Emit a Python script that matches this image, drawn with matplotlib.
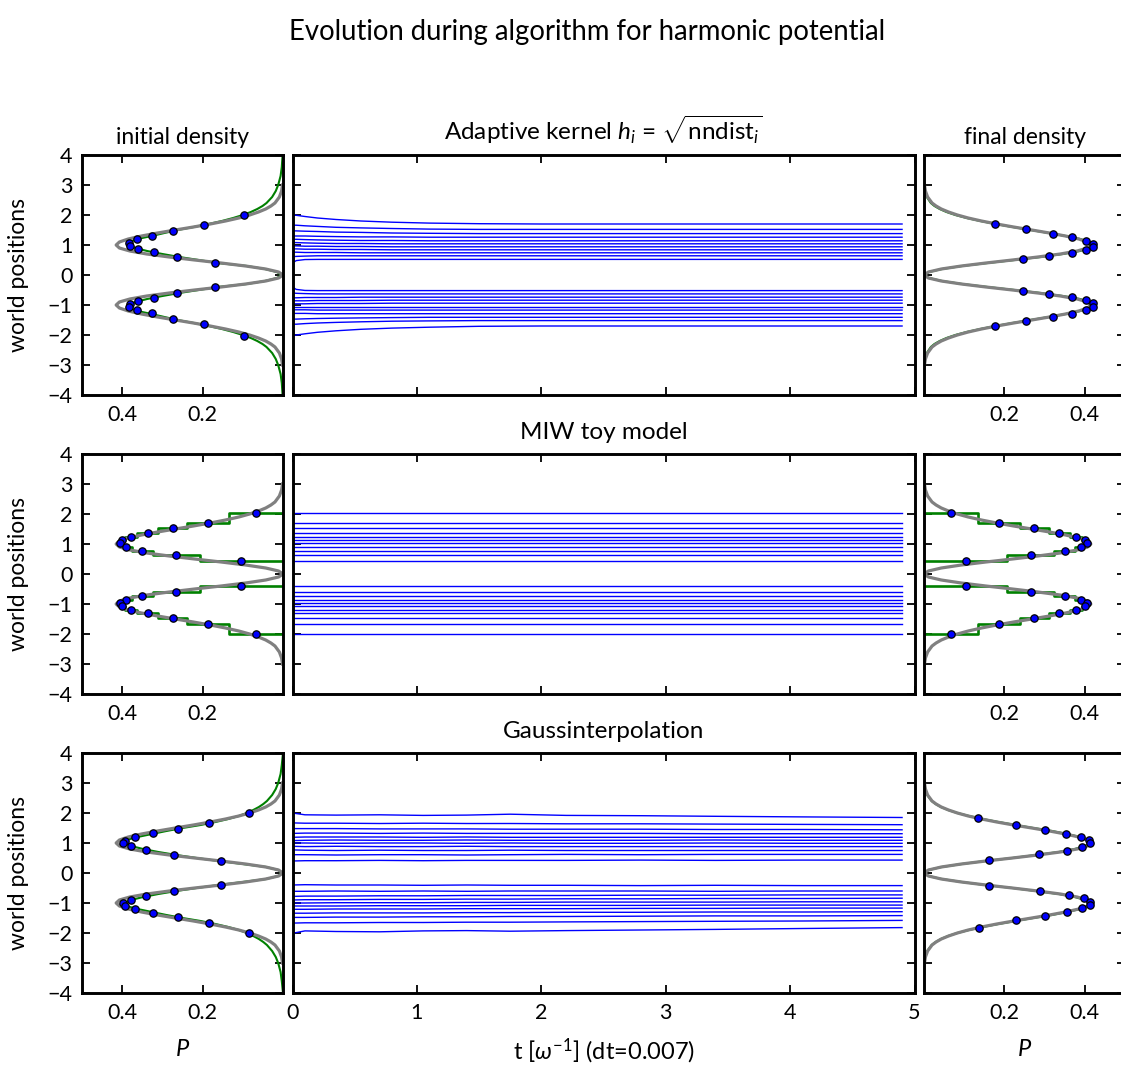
import numpy as np
import matplotlib
matplotlib.use("Agg")
import matplotlib.pyplot as plt

# ---------------------------------------------------------------- data
# reference density (grey curve) for y >= 0 (symmetric)
ref_y = [0.0, 0.1, 0.2, 0.3, 0.4, 0.5, 0.6, 0.7, 0.8, 0.9, 1.0, 1.1, 1.2, 1.3,
         1.4, 1.5, 1.6, 1.7, 1.8, 1.9, 2.0, 2.1, 2.2, 2.3, 2.4, 2.6, 2.8, 3.0]
ref_P = [0.0, 0.011, 0.043, 0.093, 0.154, 0.220, 0.283, 0.339, 0.381, 0.407,
         0.415, 0.407, 0.385, 0.352, 0.312, 0.268, 0.223, 0.181, 0.143, 0.110,
         0.083, 0.061, 0.043, 0.030, 0.020, 0.009, 0.0035, 0.0012]

# estimated densities (green curves), y >= 0
kde_y = [0.0, 0.1, 0.2, 0.3, 0.4, 0.5, 0.6, 0.7, 0.8, 0.9, 1.0, 1.1, 1.2, 1.3,
         1.4, 1.5, 1.6, 1.7, 1.8, 1.9, 2.0, 2.1, 2.2, 2.3, 2.4, 2.6, 2.8, 3.0,
         3.3, 3.6, 4.0]
kde_adapt_init = [0.003, 0.015, 0.045, 0.090, 0.162, 0.210, 0.258, 0.300, 0.338,
                  0.367, 0.382, 0.382, 0.362, 0.327, 0.295, 0.262, 0.222, 0.185,
                  0.152, 0.124, 0.100, 0.080, 0.064, 0.051, 0.041, 0.027, 0.018,
                  0.012, 0.006, 0.003, 0.001]
kde_adapt_final = [0.0, 0.012, 0.045, 0.095, 0.158, 0.225, 0.290, 0.345, 0.388,
                   0.412, 0.421, 0.413, 0.388, 0.352, 0.310, 0.265, 0.220, 0.178,
                   0.140, 0.106, 0.078, 0.056, 0.039, 0.026, 0.017, 0.007, 0.002,
                   0.0005, 0.0, 0.0, 0.0]
kde_gauss_init = [0.002, 0.012, 0.042, 0.100, 0.160, 0.215, 0.265, 0.310, 0.348,
                  0.378, 0.396, 0.390, 0.362, 0.326, 0.290, 0.250, 0.205, 0.168,
                  0.136, 0.110, 0.090, 0.074, 0.060, 0.049, 0.040, 0.027, 0.018,
                  0.012, 0.006, 0.003, 0.0]
kde_gauss_final = [0.0, 0.011, 0.044, 0.094, 0.152, 0.220, 0.278, 0.335, 0.375,
                   0.401, 0.412, 0.408, 0.388, 0.356, 0.318, 0.272, 0.228, 0.185,
                   0.146, 0.112, 0.083, 0.060, 0.042, 0.029, 0.019, 0.008, 0.003,
                   0.001, 0.0, 0.0, 0.0]

# particles (positions and density at the particle)
adapt_init_pos = [2.01, 1.66, 1.47, 1.30, 1.19, 1.08, 0.97, 0.87, 0.76, 0.61, 0.40,
                  -0.40, -0.60, -0.76, -0.86, -0.96, -1.06, -1.16, -1.28, -1.47, -1.64, -2.02]
adapt_init_P = [0.098, 0.197, 0.273, 0.327, 0.364, 0.382, 0.381, 0.360, 0.322, 0.263, 0.169,
                0.169, 0.263, 0.322, 0.360, 0.381, 0.382, 0.364, 0.327, 0.273, 0.197, 0.098]
adapt_final_pos = [1.70, 1.52, 1.38, 1.26, 1.14, 1.04, 0.94, 0.84, 0.74, 0.64, 0.52,
                   -0.52, -0.63, -0.74, -0.84, -0.94, -1.06, -1.17, -1.29, -1.41, -1.52, -1.70]
adapt_final_P = [0.177, 0.254, 0.320, 0.369, 0.402, 0.420, 0.420, 0.403, 0.368, 0.311, 0.246,
                 0.246, 0.311, 0.368, 0.403, 0.420, 0.420, 0.403, 0.368, 0.320, 0.254, 0.177]

miw_pos = [2.03, 1.70, 1.52, 1.37, 1.25, 1.13, 1.02, 0.90, 0.77, 0.63, 0.43,
           -0.40, -0.59, -0.73, -0.85, -0.97, -1.08, -1.19, -1.31, -1.47, -1.65, -1.99]
miw_P = [0.067, 0.186, 0.274, 0.336, 0.378, 0.400, 0.405, 0.390, 0.350, 0.265, 0.105,
         0.105, 0.265, 0.350, 0.390, 0.405, 0.400, 0.378, 0.336, 0.274, 0.186, 0.067]
# step heights between neighbouring particles (upper hump, then lower hump)
miw_step_upper = [0.134, 0.238, 0.310, 0.362, 0.394, 0.406, 0.404, 0.376, 0.324, 0.206]
miw_step_lower = [0.206, 0.324, 0.376, 0.404, 0.406, 0.394, 0.362, 0.310, 0.238, 0.134]

gauss_init_pos = [2.01, 1.67, 1.48, 1.32, 1.19, 1.08, 1.00, 0.89, 0.77, 0.61, 0.40,
                  -0.40, -0.61, -0.78, -0.90, -1.00, -1.10, -1.21, -1.34, -1.48, -1.67, -2.01]
gauss_init_P = [0.085, 0.184, 0.262, 0.323, 0.368, 0.393, 0.397, 0.379, 0.340, 0.272, 0.154,
                0.154, 0.272, 0.340, 0.379, 0.397, 0.393, 0.368, 0.323, 0.262, 0.184, 0.085]
gauss_final_pos = [1.85, 1.61, 1.44, 1.31, 1.19, 1.09, 0.99, 0.88, 0.75, 0.62, 0.43,
                   -0.42, -0.60, -0.73, -0.84, -0.96, -1.07, -1.17, -1.29, -1.42, -1.58, -1.82]
gauss_final_P = [0.134, 0.230, 0.302, 0.354, 0.390, 0.410, 0.412, 0.394, 0.355, 0.285, 0.162,
                 0.162, 0.288, 0.360, 0.397, 0.414, 0.412, 0.392, 0.355, 0.301, 0.230, 0.136]

# trajectories
t_adapt = [0, 0.03, 0.1, 0.2, 0.35, 0.55, 0.8, 1.1, 1.5, 2.0, 4.9]
traj_adapt = [
    [2.01, 1.99, 1.95, 1.90, 1.85, 1.80, 1.76, 1.73, 1.71, 1.70, 1.70],
    [1.66, 1.66, 1.64, 1.62, 1.59, 1.57, 1.55, 1.53, 1.52, 1.52, 1.52],
    [1.47, 1.47, 1.46, 1.45, 1.43, 1.42, 1.40, 1.39, 1.38, 1.38, 1.38],
    [1.30, 1.30, 1.30, 1.29, 1.28, 1.27, 1.27, 1.26, 1.26, 1.26, 1.26],
    [1.19, 1.19, 1.18, 1.17, 1.16, 1.15, 1.15, 1.14, 1.14, 1.14, 1.14],
    [1.08, 1.08, 1.07, 1.06, 1.05, 1.05, 1.04, 1.04, 1.04, 1.04, 1.04],
    [0.97, 0.97, 0.96, 0.96, 0.95, 0.95, 0.94, 0.94, 0.94, 0.94, 0.94],
    [0.87, 0.87, 0.86, 0.86, 0.85, 0.85, 0.84, 0.84, 0.84, 0.84, 0.84],
    [0.76, 0.76, 0.75, 0.75, 0.75, 0.74, 0.74, 0.74, 0.74, 0.74, 0.74],
    [0.61, 0.62, 0.63, 0.64, 0.64, 0.64, 0.64, 0.64, 0.64, 0.64, 0.64],
    [0.40, 0.48, 0.515, 0.52, 0.52, 0.52, 0.52, 0.52, 0.52, 0.52, 0.52],
    [-0.40, -0.48, -0.515, -0.52, -0.52, -0.52, -0.52, -0.52, -0.52, -0.52, -0.52],
    [-0.60, -0.61, -0.62, -0.63, -0.63, -0.63, -0.63, -0.63, -0.63, -0.63, -0.63],
    [-0.76, -0.76, -0.75, -0.75, -0.75, -0.74, -0.74, -0.74, -0.74, -0.74, -0.74],
    [-0.86, -0.86, -0.86, -0.85, -0.85, -0.85, -0.84, -0.84, -0.84, -0.84, -0.84],
    [-0.96, -0.96, -0.96, -0.95, -0.95, -0.95, -0.94, -0.94, -0.94, -0.94, -0.94],
    [-1.06, -1.06, -1.06, -1.06, -1.06, -1.06, -1.06, -1.06, -1.06, -1.06, -1.06],
    [-1.16, -1.16, -1.16, -1.17, -1.17, -1.17, -1.17, -1.17, -1.17, -1.17, -1.17],
    [-1.28, -1.28, -1.28, -1.29, -1.29, -1.29, -1.29, -1.29, -1.29, -1.29, -1.29],
    [-1.47, -1.47, -1.46, -1.45, -1.44, -1.43, -1.42, -1.41, -1.41, -1.41, -1.41],
    [-1.64, -1.64, -1.62, -1.60, -1.58, -1.56, -1.54, -1.53, -1.52, -1.52, -1.52],
    [-2.02, -2.00, -1.96, -1.91, -1.86, -1.81, -1.77, -1.74, -1.71, -1.70, -1.70],
]
t_miw = [0, 4.9]

t_gauss = [0, 0.1, 0.35, 0.7, 1.05, 1.4, 1.75, 2.2, 2.8, 3.4, 4.1, 4.9]
traj_gauss = [
    [2.00, 1.94, 1.93, 1.94, 1.92, 1.93, 1.96, 1.92, 1.91, 1.89, 1.87, 1.85],
    [1.67, 1.66, 1.66, 1.65, 1.66, 1.65, 1.65, 1.64, 1.64, 1.63, 1.62, 1.61],
    [1.48, 1.48, 1.48, 1.47, 1.47, 1.47, 1.46, 1.46, 1.46, 1.45, 1.45, 1.44],
    [1.32, 1.33, 1.33, 1.32, 1.33, 1.32, 1.32, 1.32, 1.32, 1.31, 1.31, 1.31],
    [1.19, 1.20, 1.20, 1.20, 1.19, 1.20, 1.19, 1.19, 1.19, 1.19, 1.19, 1.19],
    [1.08, 1.09, 1.10, 1.09, 1.09, 1.10, 1.09, 1.09, 1.09, 1.10, 1.09, 1.09],
    [1.00, 1.00, 0.99, 1.00, 1.00, 0.99, 1.00, 0.99, 0.99, 1.00, 0.99, 0.99],
    [0.89, 0.88, 0.89, 0.88, 0.88, 0.89, 0.88, 0.88, 0.88, 0.88, 0.88, 0.88],
    [0.77, 0.76, 0.75, 0.76, 0.75, 0.75, 0.76, 0.75, 0.75, 0.75, 0.75, 0.75],
    [0.61, 0.61, 0.60, 0.61, 0.61, 0.60, 0.61, 0.62, 0.61, 0.62, 0.62, 0.62],
    [0.40, 0.41, 0.41, 0.42, 0.41, 0.42, 0.42, 0.42, 0.43, 0.42, 0.43, 0.43],
    [-0.40, -0.39, -0.40, -0.40, -0.41, -0.40, -0.41, -0.41, -0.42, -0.41, -0.42, -0.42],
    [-0.61, -0.61, -0.60, -0.61, -0.60, -0.61, -0.60, -0.60, -0.60, -0.61, -0.60, -0.60],
    [-0.78, -0.77, -0.77, -0.76, -0.76, -0.75, -0.75, -0.75, -0.74, -0.74, -0.73, -0.73],
    [-0.90, -0.89, -0.89, -0.88, -0.88, -0.87, -0.87, -0.86, -0.86, -0.85, -0.85, -0.84],
    [-1.00, -1.00, -0.99, -0.99, -0.99, -0.98, -0.98, -0.97, -0.97, -0.97, -0.96, -0.96],
    [-1.10, -1.10, -1.10, -1.09, -1.09, -1.09, -1.08, -1.08, -1.08, -1.07, -1.07, -1.07],
    [-1.21, -1.21, -1.20, -1.20, -1.20, -1.19, -1.19, -1.19, -1.18, -1.18, -1.17, -1.17],
    [-1.34, -1.34, -1.33, -1.33, -1.33, -1.32, -1.32, -1.31, -1.31, -1.30, -1.30, -1.29],
    [-1.48, -1.48, -1.47, -1.47, -1.46, -1.46, -1.45, -1.45, -1.44, -1.43, -1.43, -1.42],
    [-1.67, -1.66, -1.66, -1.65, -1.65, -1.64, -1.64, -1.63, -1.62, -1.61, -1.60, -1.58],
    [-2.01, -1.93, -1.95, -1.96, -1.93, -1.92, -1.94, -1.92, -1.90, -1.88, -1.85, -1.82],
]

row_titles = ["Adaptive kernel $h_i$ = $\\sqrt{\\mathrm{nndist}_i}$",
              "MIW toy model", "Gaussinterpolation"]


# ---------------------------------------------------------------- helpers
def mirror(y, p):
    y = np.asarray(y, float)
    p = np.asarray(p, float)
    return np.r_[-y[::-1], y[1:]], np.r_[p[::-1], p[1:]]


def steps(pos, heights):
    # piecewise constant density between neighbouring particles
    return np.r_[0, np.repeat(heights, 2), 0], np.repeat(pos, 2)


def style(ax):
    for s in ax.spines.values():
        s.set_linewidth(2.1)
    ax.tick_params(direction="in", top=True, right=True, length=6, width=1.3,
                   labelsize=15.5, pad=7)
    ax.set_ylim(-4, 4)
    ax.set_yticks(range(-4, 5))


# ---------------------------------------------------------------- plot config
plt.rcParams["font.family"] = ["Lato", "DejaVu Sans"]
plt.rcParams["mathtext.fontset"] = "custom"
plt.rcParams["mathtext.rm"] = "Lato"
plt.rcParams["mathtext.it"] = "Lato:italic"

W, H = 1121, 1068
fig = plt.figure(figsize=(W / 100, H / 100), dpi=100)


def px_axes(x0, x1, top, bottom):
    return fig.add_axes([x0 / W, 1 - bottom / H, (x1 - x0) / W, (bottom - top) / H])


rows_px = [(155, 395), (454, 694), (753, 993)]
ref_yy, ref_PP = mirror(ref_y, ref_P)

left_kde = [kde_adapt_init, None, kde_gauss_init]
right_kde = [kde_adapt_final, None, kde_gauss_final]
left_dots = [(adapt_init_pos, adapt_init_P), (miw_pos, miw_P), (gauss_init_pos, gauss_init_P)]
right_dots = [(adapt_final_pos, adapt_final_P), (miw_pos, miw_P), (gauss_final_pos, gauss_final_P)]

for r, (top, bottom) in enumerate(rows_px):
    axl = px_axes(82, 283, top, bottom)
    axm = px_axes(292.5, 914.5, top, bottom)
    axr = px_axes(924, 1125, top, bottom)

    for ax, kde, (pos, P) in ((axl, left_kde[r], left_dots[r]), (axr, right_kde[r], right_dots[r])):
        if kde is None:
            xs, ys = steps(miw_pos[:11], miw_step_upper)
            ax.plot(xs, ys, color="green", lw=1.9)
            xs, ys = steps(miw_pos[11:], miw_step_lower)
            ax.plot(xs, ys, color="green", lw=1.9)
        else:
            yy, pp = mirror(kde_y, kde)
            ax.plot(pp, yy, color="green", lw=1.5)
        ax.plot(ref_PP, ref_yy, color="gray", lw=2.3)
        ax.plot(P, pos, "o", color="blue", mec="black", mew=0.9, ms=5.3, zorder=5)
        style(ax)

    axl.set_xlim(0.5, 0)
    axl.set_xticks([0.4, 0.2])
    axl.set_xticklabels(["0.4", "0.2"])
    axl.set_ylabel("world positions", fontsize=16.5, labelpad=13)
    axr.set_xlim(0, 0.5)
    axr.set_xticks([0.2, 0.4])
    axr.set_xticklabels(["0.2", "0.4"])
    axr.set_yticklabels([])

    # trajectories
    if r == 0:
        for tr in traj_adapt:
            axm.plot(t_adapt, tr, color="blue", lw=1.0)
    elif r == 1:
        for p in miw_pos:
            axm.plot(t_miw, [p, p], color="blue", lw=1.0)
    else:
        for tr in traj_gauss:
            axm.plot(t_gauss, tr, color="blue", lw=1.0)
    style(axm)
    axm.set_xlim(0, 5)
    axm.set_xticks(range(0, 6))
    axm.set_yticklabels([])
    axm.set_title(row_titles[r], fontsize=17.5, pad=11)
    if r < 2:
        axm.set_xticklabels([])
    else:
        axm.set_xlabel("t [$\\omega^{-1}$] (dt=0.007)", fontsize=17, labelpad=10)
        axl.set_xlabel("$P$", fontsize=17, labelpad=12)
        axr.set_xlabel("$P$", fontsize=17, labelpad=12)
    if r == 0:
        axl.set_title("initial density", fontsize=16.5, pad=8)
        axr.set_title("final density", fontsize=16.5, pad=8)

fig.text(587 / W, 1 - 32 / H, "Evolution during algorithm for harmonic potential",
         ha="center", va="center", fontsize=19.8)

fig.savefig("out.png", dpi=100)
